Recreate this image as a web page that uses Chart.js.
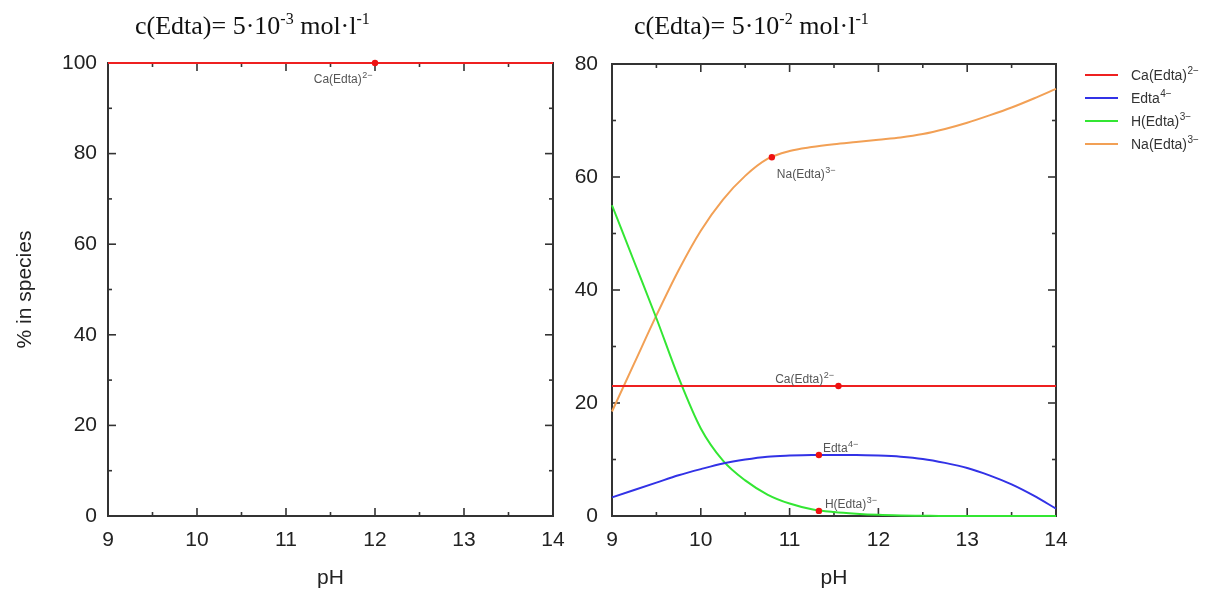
<!DOCTYPE html>
<html><head><meta charset="utf-8">
<script src="https://cdn.jsdelivr.net/npm/chart.js@4.4.0/dist/chart.umd.min.js"></script>
<style>
html,body{margin:0;padding:0;background:#fff;width:1208px;height:589px;overflow:hidden;}
#wrap{position:relative;width:1208px;height:589px;}
canvas{position:absolute;top:0;}
.title{position:absolute;font-family:"Liberation Serif","Times New Roman",serif;font-size:26px;color:#111;white-space:nowrap;line-height:1;}
.title sup{font-size:16px;vertical-align:0;position:relative;top:-10px;}
</style></head><body>
<div id="wrap">
<canvas id="c1" width="580" height="589" style="left:0;width:580px;height:589px"></canvas>
<canvas id="c2" width="648" height="589" style="left:560px;width:648px;height:589px"></canvas>
<div class="title" style="left:135px;top:13px">c(Edta)= 5·10<sup>-3</sup> mol·l<sup>-1</sup></div>
<div class="title" style="left:634px;top:13px">c(Edta)= 5·10<sup>-2</sup> mol·l<sup>-1</sup></div>
</div>
<script>
// ---------- data ----------
const pH = [9,9.25,9.5,9.75,10,10.25,10.5,10.75,11,11.25,11.5,11.75,12,12.25,12.5,12.75,13,13.25,13.5,13.75,14];
// left panel: c(Edta)=5e-3
const caEdtaLeft = [100,100,100,100,100,100,100,100,100,100,100,100,100,100,100,100,100,100,100,100,100];
// right panel: c(Edta)=5e-2
const caEdtaRight = [23,23,23,23,23,23,23,23,23,23,23,23,23,23,23,23,23,23,23,23,23];
const edta4 = [3.3,4.6,5.9,7.2,8.3,9.3,10.0,10.5,10.7,10.8,10.8,10.8,10.7,10.5,10.1,9.4,8.5,7.2,5.6,3.6,1.3];
const hEdta3 = [55,45,35,24.5,15.5,9.8,6.3,3.8,2.2,1.2,0.7,0.4,0.2,0.1,0.05,0,0,0,0,0,0];
const naEdta3 = [18.5,27,35.5,43.5,50.5,56.0,60.2,63.2,64.6,65.3,65.8,66.2,66.6,67.0,67.6,68.5,69.6,70.9,72.3,73.9,75.6];
// labelled marker points [pH, %]
const markLeftCa = [12, 100];
const markRightNa = [10.8, 63.5];
const markRightCa = [11.55, 23];
const markRightEdta = [11.33, 10.8];
const markRightH = [11.33, 0.9];
// ticks
const xMajor = [9,10,11,12,13,14];
const xMinor = [9.5,10.5,11.5,12.5,13.5];
const yMajorLeft = [0,20,40,60,80,100];
const yMinorLeft = [10,30,50,70,90];
const yMajorRight = [0,20,40,60,80];
const yMinorRight = [10,30,50,70];

const RED='#ee2020', BLUE='#3232e6', GREEN='#33e633', ORANGE='#f2a055';
const SANS='"Liberation Sans", Arial, Helvetica, sans-serif';
const species = [
  {base:'Ca(Edta)', sup:'2\u2212', color:RED},
  {base:'Edta', sup:'4\u2212', color:BLUE},
  {base:'H(Edta)', sup:'3\u2212', color:GREEN},
  {base:'Na(Edta)', sup:'3\u2212', color:ORANGE}
];

const pts = arr => pH.map((p,i)=>({x:p,y:arr[i]}));

function supText(ctx, base, sup, x, y, size, color, align){
  ctx.save();
  ctx.fillStyle=color; ctx.textBaseline='alphabetic'; ctx.textAlign='left';
  ctx.font = size+'px '+SANS;
  const bw = ctx.measureText(base).width;
  const ss = Math.round(size*0.72);
  ctx.font = ss+'px '+SANS;
  const sw = ctx.measureText(sup).width;
  const x0 = align==='right' ? x-bw-sw : x;
  ctx.font = size+'px '+SANS;
  ctx.fillText(base, x0, y);
  ctx.font = ss+'px '+SANS;
  ctx.fillText(sup, x0+bw+0.5, y-size*0.42);
  ctx.restore();
}

const framePlugin = {
  id:'frame',
  beforeDatasetsDraw(chart, args, o){
    const {ctx, chartArea:a, scales:{x,y}} = chart;
    ctx.save();
    ctx.strokeStyle='#333'; ctx.lineWidth=1.6;
    const ln=(x1,y1,x2,y2)=>{ctx.beginPath();ctx.moveTo(x1,y1);ctx.lineTo(x2,y2);ctx.stroke();};
    const MJ=8, MN=4;
    o.xMajor.forEach(v=>{const p=x.getPixelForValue(v); ln(p,a.bottom,p,a.bottom-MJ); ln(p,a.top,p,a.top+MJ);});
    o.xMinor.forEach(v=>{const p=x.getPixelForValue(v); ln(p,a.bottom,p,a.bottom-MN); ln(p,a.top,p,a.top+MN);});
    o.yMajor.forEach(v=>{const p=y.getPixelForValue(v); ln(a.left,p,a.left+MJ,p); ln(a.right,p,a.right-MJ,p);});
    o.yMinor.forEach(v=>{const p=y.getPixelForValue(v); ln(a.left,p,a.left+MN,p); ln(a.right,p,a.right-MN,p);});
    ctx.lineWidth=2;
    ctx.strokeRect(a.left,a.top,a.right-a.left,a.bottom-a.top);
    ctx.restore();
  }
};

const labelPlugin = {
  id:'marklabels',
  afterDatasetsDraw(chart, args, o){
    const {ctx, scales:{x,y}} = chart;
    (o.items||[]).forEach(it=>{
      const px=x.getPixelForValue(it.at[0]), py=y.getPixelForValue(it.at[1]);
      supText(ctx, it.base, it.sup, px+it.dx, py+it.dy, 12, '#555', it.align);
    });
    if (o.legend){
      const L=o.legend;
      species.forEach((s,i)=>{
        const yy=L.y+i*L.gap;
        ctx.save(); ctx.strokeStyle=s.color; ctx.lineWidth=2;
        ctx.beginPath(); ctx.moveTo(L.x,yy); ctx.lineTo(L.x+33,yy); ctx.stroke(); ctx.restore();
        supText(ctx, s.base, s.sup, L.x+46, yy+5, 14, '#333', 'left');
      });
    }
  }
};

function lineDs(data,color){
  return {type:'line', data:pts(data), borderColor:color, backgroundColor:color, borderWidth:2,
    pointRadius:0, cubicInterpolationMode:'monotone', clip:false, order:1};
}
function markDs(m){
  return {type:'scatter', data:[{x:m[0],y:m[1]}], pointRadius:3.2, pointBorderWidth:0,
    backgroundColor:'#ee1111', borderColor:'#ee1111', clip:false, order:-1};
}

function axes(ymax, yAfterW, yPad, showTitle){
  return {
    x:{type:'linear', min:9, max:14,
      ticks:{stepSize:1, padding:12, color:'#222', font:{family:SANS, size:21}},
      grid:{display:false, drawTicks:false}, border:{display:false},
      title:{display:true, text:'pH', color:'#222', font:{family:SANS, size:21, lineHeight:1}, padding:{top:0,bottom:0}},
      afterFit(s){ s.height=73; }
    },
    y:{type:'linear', min:0, max:ymax,
      ticks:{stepSize:20, padding:yPad, color:'#222', font:{family:SANS, size:21}},
      grid:{display:false, drawTicks:false}, border:{display:false},
      title:{display:showTitle, text:'% in species', color:'#222', font:{family:SANS, size:21, lineHeight:1}, padding:{top:15,bottom:0}},
      afterFit(s){ s.width=yAfterW; }
    }
  };
}

const common = {responsive:false, animation:false, devicePixelRatio:1,
  plugins:{legend:{display:false}, tooltip:{enabled:false}}};

new Chart(document.getElementById('c1'), {
  type:'line',
  data:{datasets:[lineDs(caEdtaLeft,RED), markDs(markLeftCa)]},
  options:Object.assign({}, common, {
    layout:{padding:{top:63, right:27, bottom:0, left:0}},
    scales:axes(100,108,11,true),
    plugins:Object.assign({}, common.plugins, {
      frame:{xMajor, xMinor, yMajor:yMajorLeft, yMinor:yMinorLeft},
      marklabels:{items:[{at:markLeftCa, base:'Ca(Edta)', sup:'2\u2212', dx:-3, dy:20, align:'right'}]}
    })
  }),
  plugins:[framePlugin, labelPlugin]
});

new Chart(document.getElementById('c2'), {
  type:'line',
  data:{datasets:[lineDs(caEdtaRight,RED), lineDs(edta4,BLUE), lineDs(hEdta3,GREEN), lineDs(naEdta3,ORANGE),
    markDs(markRightNa), markDs(markRightCa), markDs(markRightEdta), markDs(markRightH)]},
  options:Object.assign({}, common, {
    layout:{padding:{top:64, right:152, bottom:0, left:0}},
    scales:axes(80,52,14,false),
    plugins:Object.assign({}, common.plugins, {
      frame:{xMajor, xMinor, yMajor:yMajorRight, yMinor:yMinorRight},
      marklabels:{
        items:[
          {at:markRightNa, base:'Na(Edta)', sup:'3\u2212', dx:5, dy:21, align:'left'},
          {at:markRightCa, base:'Ca(Edta)', sup:'2\u2212', dx:-5, dy:-3, align:'right'},
          {at:markRightEdta, base:'Edta', sup:'4\u2212', dx:4, dy:-3, align:'left'},
          {at:markRightH, base:'H(Edta)', sup:'3\u2212', dx:6, dy:-3, align:'left'}
        ],
        legend:{x:525, y:75, gap:23}
      }
    })
  }),
  plugins:[framePlugin, labelPlugin]
});
</script>
</body></html>
